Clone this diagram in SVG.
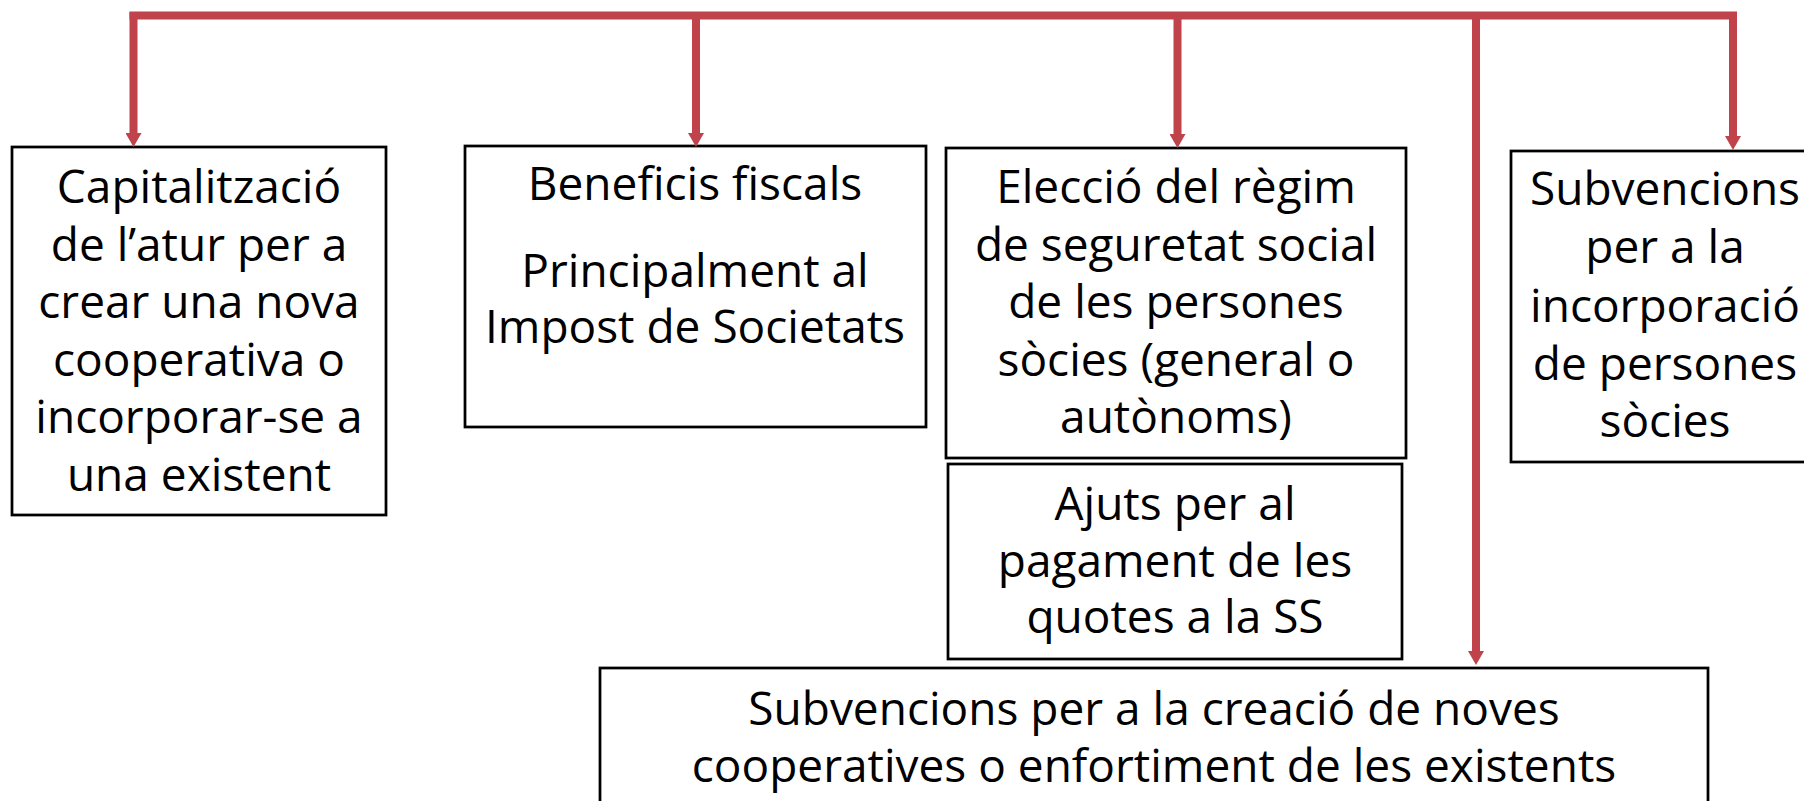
<svg xmlns="http://www.w3.org/2000/svg" width="1804" height="801" viewBox="0 0 1804 801">
<style>
.box{fill:#fff;stroke:#000;stroke-width:2.75}
.t{font-family:"Open Sans","Noto Sans","DejaVu Sans",sans-serif;font-size:46px;fill:#000;text-anchor:middle}
.c{fill:none;stroke:#C0424A;stroke-width:8}
</style>
<defs>
<marker id="ah" viewBox="0 -8 14 16" markerWidth="14" markerHeight="16" refX="0" refY="0" orient="auto" markerUnits="userSpaceOnUse">
<path d="M0,-8 L14,0 L0,8 Z" fill="#C0424A"/>
</marker>
</defs>
<rect width="1804" height="801" fill="#fff"/>
<g id="nodes">
<g id="n1">
<rect class="box" x="12" y="147" width="374" height="368"/>
<text class="t" x="199"><tspan x="199" y="203">Capitalització</tspan><tspan x="199" y="261">de l’atur per a</tspan><tspan x="199" y="318">crear una nova</tspan><tspan x="199" y="376">cooperativa o</tspan><tspan x="199" y="433">incorporar-se a</tspan><tspan x="199" y="491">una existent</tspan></text>
</g>
<g id="n2">
<rect class="box" x="465" y="146" width="461" height="281"/>
<text class="t" x="695"><tspan x="695" y="200">Beneficis fiscals</tspan><tspan x="695" y="287">Principalment al</tspan><tspan x="695" y="343">Impost de Societats</tspan></text>
</g>
<g id="n3">
<rect class="box" x="946" y="148" width="460" height="310"/>
<text class="t" x="1176"><tspan x="1176" y="203">Elecció del règim</tspan><tspan x="1176" y="261">de seguretat social</tspan><tspan x="1176" y="318">de les persones</tspan><tspan x="1176" y="376">sòcies (general o</tspan><tspan x="1176" y="433">autònoms)</tspan></text>
</g>
<g id="n4">
<rect class="box" x="948" y="464" width="454" height="195"/>
<text class="t" x="1175"><tspan x="1175" y="520">Ajuts per al</tspan><tspan x="1175" y="577">pagament de les</tspan><tspan x="1175" y="633">quotes a la SS</tspan></text>
</g>
<g id="n5">
<rect class="box" x="1511" y="151" width="310" height="311"/>
<text class="t" x="1665"><tspan x="1665" y="205">Subvencions</tspan><tspan x="1665" y="263">per a la</tspan><tspan x="1665" y="322">incorporació</tspan><tspan x="1665" y="380">de persones</tspan><tspan x="1665" y="437">sòcies</tspan></text>
</g>
<g id="n6">
<rect class="box" x="600" y="668" width="1108" height="160"/>
<text class="t" x="1154"><tspan x="1154" y="725">Subvencions per a la creació de noves</tspan><tspan x="1154" y="782">cooperatives o enfortiment de les existents</tspan></text>
</g>
</g>
<g id="connectors">
<path class="c" d="M129.5,15.5 H1737"/>
<path class="c" d="M133.5,12 V133" marker-end="url(#ah)"/>
<path class="c" d="M696,15.5 V133" marker-end="url(#ah)"/>
<path class="c" d="M1177.5,15.5 V134" marker-end="url(#ah)"/>
<path class="c" d="M1476,15.5 V651" marker-end="url(#ah)"/>
<path class="c" d="M1733,12 V136" marker-end="url(#ah)"/>
</g>
</svg>
